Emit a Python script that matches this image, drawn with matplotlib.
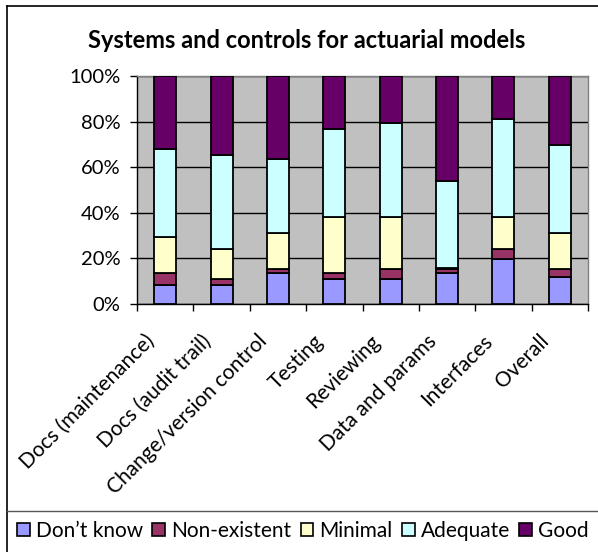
import matplotlib
matplotlib.use("Agg")
import matplotlib.pyplot as plt
import matplotlib.transforms as mtransforms
from matplotlib.patches import Patch
from matplotlib.lines import Line2D
import numpy as np

categories = ["Docs (maintenance)", "Docs (audit trail)", "Change/version control",
              "Testing", "Reviewing", "Data and params", "Interfaces", "Overall"]
dont_know = [8.5, 8.5, 13.6, 11.1, 11.1, 13.6, 19.7, 11.8]
non_existent = [5.1, 2.3, 1.9, 2.6, 4.3, 1.9, 4.6, 3.6]
minimal = [15.9, 13.3, 15.6, 24.6, 22.8, 0.4, 14.0, 15.9]
adequate = [38.5, 41.3, 32.5, 38.5, 41.3, 38.2, 42.8, 38.6]
good = [32.0, 34.6, 36.4, 23.2, 20.5, 45.9, 18.9, 30.1]
series_names = ["Don\u2019t know", "Non-existent", "Minimal", "Adequate", "Good"]
colors = ["#9999FF", "#993366", "#FFFFCC", "#CCFFFF", "#660066"]
title = "Systems and controls for actuarial models"
yticks = [0, 20, 40, 60, 80, 100]

plt.rcParams['font.family'] = ['Lato', 'DejaVu Sans']

W, H = 598, 552
fig = plt.figure(figsize=(5.98, 5.52), dpi=100)
ax = fig.add_axes([137/W, 1-304/H, (588-137)/W, (304-76)/H])
ax.set_facecolor("#C0C0C0")

series = [dont_know, non_existent, minimal, adequate, good]
x = np.arange(len(categories))
bottom = np.zeros(len(categories))
for vals, c, name in zip(series, colors, series_names):
    ax.bar(x, vals, width=0.39, bottom=bottom, color=c, edgecolor="black",
           linewidth=1.3, label=name, zorder=3)
    bottom += np.array(vals)

ax.set_xlim(-0.5, len(categories) - 0.5)
ax.set_ylim(0, 100)
ax.set_yticks(yticks)
ax.set_yticklabels([f"{v}%" for v in yticks], fontsize=14.5)
ax.yaxis.grid(True, color="black", linewidth=1.0, zorder=1)
ax.set_axisbelow(True)
ax.tick_params(axis='y', length=5, width=1, pad=7, direction='out')

ax.set_xticks(x)
ax.set_xticklabels(categories, rotation=45, ha='right', va='top',
                   rotation_mode='anchor', fontsize=15)
ax.tick_params(axis='x', length=0, pad=19.5)
offset = mtransforms.ScaledTranslation(-21/100, 0, fig.dpi_scale_trans)
for lab in ax.get_xticklabels():
    lab.set_transform(lab.get_transform() + offset)
ax.set_xticks(np.arange(-0.5, len(categories), 1.0), minor=True)
ax.tick_params(axis='x', which='minor', length=5, width=1, direction='out')

for s in ["top", "right"]:
    ax.spines[s].set_color("#808080")
    ax.spines[s].set_linewidth(1.0)
for s in ["left", "bottom"]:
    ax.spines[s].set_color("black")
    ax.spines[s].set_linewidth(1.0)

fig.text(307/W, 1-40/H, title, ha='center', va='center', fontsize=17, fontweight='bold')

# borders
fig.add_artist(Line2D([7/W, 7/W], [0, 1-6/H], transform=fig.transFigure, color='black', lw=1.2))
fig.add_artist(Line2D([7/W, 1], [1-6/H, 1-6/H], transform=fig.transFigure, color='black', lw=1.2))
fig.add_artist(Line2D([7/W, 1], [1-511/H, 1-511/H], transform=fig.transFigure, color='#555555', lw=1.0))

handles = [Patch(facecolor=c, edgecolor='black', linewidth=1.2) for c in colors]
fig.legend(handles, series_names, loc='center', bbox_to_anchor=(303/W, 1-531/H),
           ncol=5, frameon=False, fontsize=15, handlelength=0.6, handleheight=0.6,
           handletextpad=0.3, columnspacing=0.45, borderpad=0)

fig.savefig("out.png", dpi=100)
